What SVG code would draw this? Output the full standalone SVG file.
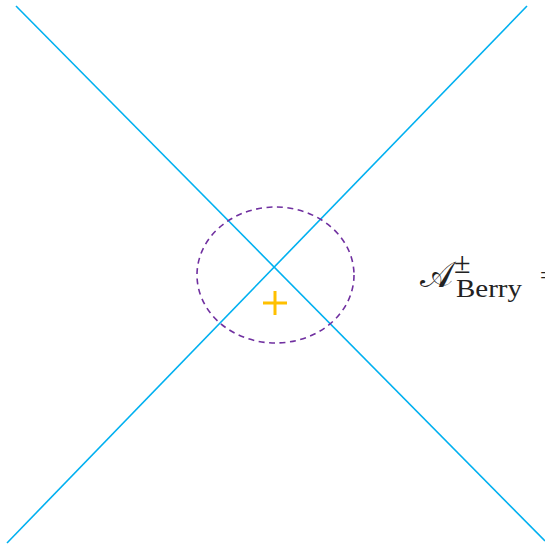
<svg xmlns="http://www.w3.org/2000/svg" width="545" height="548" viewBox="0 0 545 548">
<style>
.ln{stroke:#00B0F0;stroke-width:1.6;fill:none}
.tx{font-family:"Liberation Serif","DejaVu Serif",serif;fill:#222}
</style>
<rect width="545" height="548" fill="#fff"/>
<g id="connectors">
<line class="ln" x1="16" y1="6" x2="545" y2="541"/>
<line class="ln" x1="527" y1="6" x2="7" y2="543"/>
</g>
<g id="loop">
<ellipse cx="275.5" cy="275" rx="78.5" ry="68" fill="none" stroke="#7030A0" stroke-width="1.6" stroke-dasharray="6,4.5"/>
</g>
<g id="charge">
<path d="M263 303H287M275 291V315" stroke="#FFC000" stroke-width="3" fill="none"/>
</g>
<g id="label">
<text class="tx" x="420" y="287" font-size="36" textLength="33" lengthAdjust="spacingAndGlyphs">𝒜</text>
<text class="tx" x="454" y="273" font-size="30">±</text>
<text class="tx" x="456" y="297" font-size="25" textLength="66" lengthAdjust="spacingAndGlyphs">Berry</text>
<text class="tx" x="540" y="283" font-size="24">=</text>
</g>
</svg>
